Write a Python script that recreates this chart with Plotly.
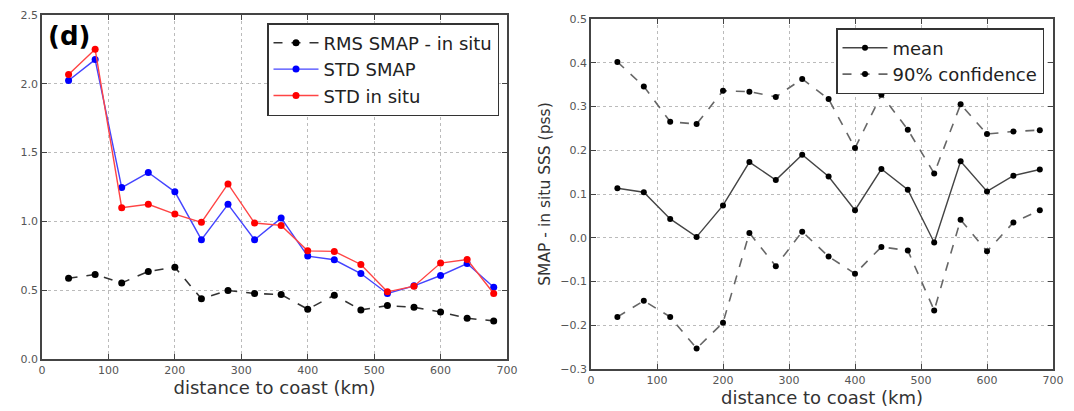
import plotly.graph_objects as go

distance = [40, 80, 120, 160, 200, 240, 280, 320, 360, 400, 440, 480, 520, 560, 600, 640, 680]

rms_smap_insitu = [0.587, 0.614, 0.553, 0.636, 0.667, 0.437, 0.498, 0.476, 0.468, 0.362,
                   0.464, 0.357, 0.388, 0.376, 0.342, 0.296, 0.277]
std_smap = [2.024, 2.176, 1.246, 1.355, 1.215, 0.867, 1.124, 0.867, 1.024, 0.748,
            0.721, 0.621, 0.476, 0.532, 0.607, 0.694, 0.522]
std_insitu = [2.068, 2.251, 1.100, 1.124, 1.053, 0.993, 1.272, 0.988, 0.971, 0.786,
              0.782, 0.687, 0.488, 0.529, 0.697, 0.723, 0.476]

mean_diff = [0.113, 0.104, 0.043, 0.002, 0.074, 0.173, 0.132, 0.190, 0.140, 0.063,
             0.157, 0.110, -0.011, 0.175, 0.106, 0.142, 0.156]
conf_upper = [0.402, 0.346, 0.265, 0.260, 0.336, 0.334, 0.322, 0.363, 0.317, 0.205,
              0.327, 0.247, 0.147, 0.305, 0.237, 0.243, 0.246]
conf_lower = [-0.181, -0.144, -0.181, -0.253, -0.194, 0.011, -0.065, 0.014, -0.043, -0.082,
              -0.021, -0.029, -0.166, 0.041, -0.031, 0.035, 0.063]

x_ticks = [0, 100, 200, 300, 400, 500, 600, 700]
left_y_ticks = [0.0, 0.5, 1.0, 1.5, 2.0, 2.5]
right_y_ticks = [-0.3, -0.2, -0.1, 0.0, 0.1, 0.2, 0.3, 0.4, 0.5]

FONT = "DejaVu Sans"
OFF = 8  # page body margin
W, H = 1074 - OFF, 411 - OFF

fig = go.Figure()

mk = dict(size=7, symbol="circle")

fig.add_trace(go.Scatter(x=distance, y=rms_smap_insitu, mode="lines+markers",
                         name="RMS SMAP - in situ",
                         line=dict(color="#333333", width=1.6, dash="dash"),
                         marker=dict(color="black", **mk),
                         xaxis="x", yaxis="y", legend="legend"))
fig.add_trace(go.Scatter(x=distance, y=std_smap, mode="lines+markers", name="STD SMAP",
                         line=dict(color="#4444ff", width=1.4),
                         marker=dict(color="#0000ff", **mk),
                         xaxis="x", yaxis="y", legend="legend"))
fig.add_trace(go.Scatter(x=distance, y=std_insitu, mode="lines+markers", name="STD in situ",
                         line=dict(color="#ff4444", width=1.4),
                         marker=dict(color="#ff0000", **mk),
                         xaxis="x", yaxis="y", legend="legend"))

fig.add_trace(go.Scatter(x=distance, y=mean_diff, mode="lines+markers", name="mean",
                         line=dict(color="#444444", width=1.4),
                         marker=dict(color="black", size=6),
                         xaxis="x2", yaxis="y2", legend="legend2"))
fig.add_trace(go.Scatter(x=distance, y=conf_upper, mode="lines+markers", name="90% confidence",
                         line=dict(color="#666666", width=1.6, dash="dash"),
                         marker=dict(color="black", size=6),
                         xaxis="x2", yaxis="y2", legend="legend2"))
fig.add_trace(go.Scatter(x=distance, y=conf_lower, mode="lines+markers", name="90% confidence",
                         line=dict(color="#666666", width=1.6, dash="dash"),
                         marker=dict(color="black", size=6), showlegend=False,
                         xaxis="x2", yaxis="y2", legend="legend2"))

def px_x(p):
    return (p - OFF) / W

def px_y(p):
    return 1 - (p - OFF) / H

axis_common = dict(
    showline=True, linecolor="#444444", linewidth=1.5, mirror="ticks",
    ticks="inside", ticklen=5, tickcolor="#444444",
    showgrid=True, gridcolor="#bbbbbb", griddash="dot", gridwidth=1,
    zeroline=False, automargin=False,
    tickfont=dict(family=FONT, size=11, color="#555555"),
)

title_font = dict(family=FONT, size=18, color="#333333")

fig.update_layout(
    width=W, height=H,
    margin=dict(l=0, r=0, t=0, b=0, autoexpand=False),
    paper_bgcolor="white", plot_bgcolor="white",
    font=dict(family=FONT, color="#333333"),
    xaxis=dict(domain=[px_x(42), px_x(507)], range=[0, 700], tickvals=x_ticks,
               title=dict(text="distance to coast (km)", font=title_font, standoff=3),
               anchor="y", **axis_common),
    yaxis=dict(domain=[px_y(359), px_y(15)], range=[0, 2.5], tickvals=left_y_ticks,
               tickformat=".1f", anchor="x", **axis_common),
    xaxis2=dict(domain=[px_x(591), px_x(1053)], range=[0, 700], tickvals=x_ticks,
                title=dict(text="distance to coast (km)", font=title_font, standoff=3),
                anchor="y2", **axis_common),
    yaxis2=dict(domain=[px_y(369), px_y(19)], range=[-0.3, 0.5], tickvals=right_y_ticks,
                tickformat=".1f", anchor="x2",
                title=dict(text="SMAP - in situ SSS (pss)", font=dict(family=FONT, size=15.5, color="#333333"), standoff=6),
                **axis_common),
    legend=dict(x=px_x(499), y=px_y(23), xanchor="right", yanchor="top",
                bgcolor="white", bordercolor="#333333", borderwidth=1.5,
                font=dict(family=FONT, size=18, color="#222222"),
                itemwidth=45, tracegroupgap=0),
    legend2=dict(x=px_x(1044), y=px_y(28), xanchor="right", yanchor="top",
                 bgcolor="white", bordercolor="#333333", borderwidth=1.5,
                 font=dict(family=FONT, size=18, color="#222222"),
                 itemwidth=45, tracegroupgap=0),
    annotations=[dict(text="<b>(d)</b>", x=px_x(46), y=px_y(36), xref="paper", yref="paper",
                      xanchor="left", yanchor="middle", showarrow=False,
                      font=dict(family=FONT, size=26, color="black"))],
    showlegend=True,
)

fig.write_html("out.html")
